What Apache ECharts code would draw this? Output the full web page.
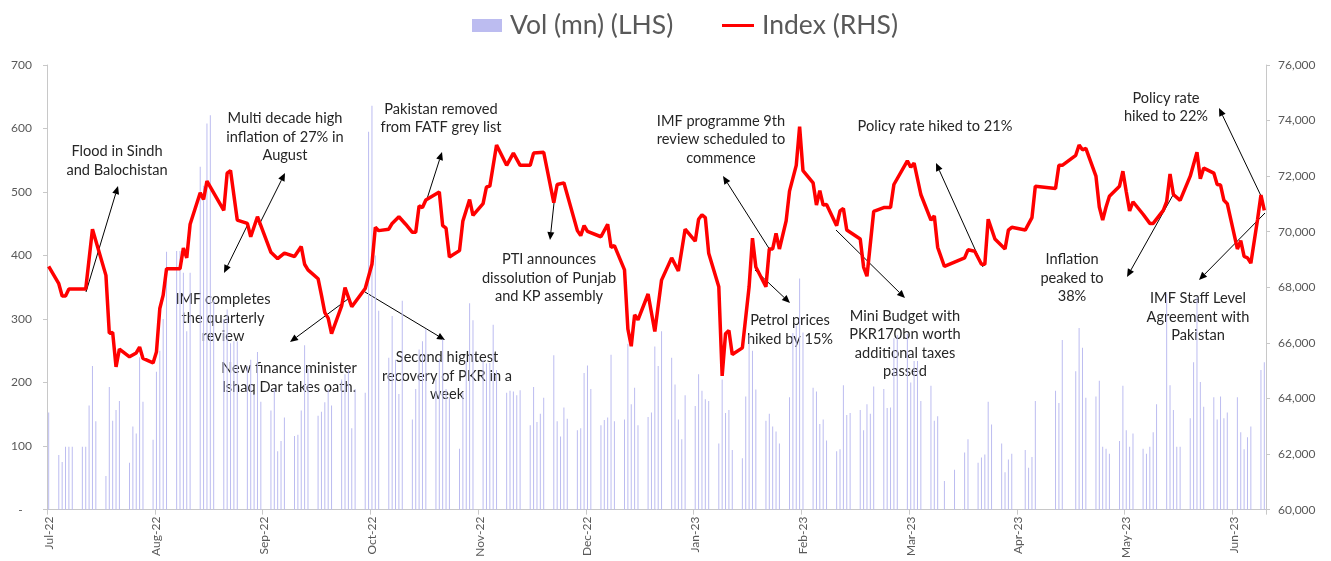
<!DOCTYPE html>
<html>
<head>
<meta charset="utf-8">
<title>Index vs volume</title>
<script src="https://cdn.jsdelivr.net/npm/echarts/dist/echarts.min.js"></script>
<style>
html, body { margin: 0; padding: 0; background: #fff; }
#main { width: 1331px; height: 561px; }
</style>
</head>
<body>
<div id="main"></div>
<script>
// calendar days from 1 Jul 2022, one category per day
var startDay = Date.UTC(2022, 6, 1);
var dayCount = 362;
var monthNames = ['Jan', 'Feb', 'Mar', 'Apr', 'May', 'Jun', 'Jul', 'Aug', 'Sep', 'Oct', 'Nov', 'Dec'];
var dates = [];
for (var i = 0; i < dayCount; i++) {
    dates.push(new Date(startDay + i * 86400000).toISOString().slice(0, 10));
}

// [day since 1 Jul 2022, volume in mn]
var volume = [
    [0,153],[3,86],[4,75],[5,99],[6,99],[7,99],[10,99],[11,99],[12,164],[13,226],[14,139],
    [17,53],[18,193],[19,140],[20,157],[21,171],[24,74],[25,131],[26,120],[27,240],[28,170],
    [31,110],[32,217],[33,250],[34,300],[35,406],[38,407],[39,407],[40,373],[41,281],[42,373],
    [45,540],[46,510],[47,608],[48,621],[49,330],[52,300],[53,315],[54,262],[55,265],[56,265],
    [59,226],[60,236],[61,182],[62,248],[63,170],[66,156],[67,190],[68,92],[69,108],[70,145],
    [73,116],[74,118],[75,156],[76,259],[77,222],[80,148],[81,154],[82,169],[83,190],[84,164],
    [87,205],[88,213],[89,222],[90,128],[91,190],[94,184],[95,595],[96,636],[97,400],[98,313],
    [101,239],[102,305],[103,236],[104,182],[105,329],[108,142],[109,190],[110,252],[111,265],[112,284],
    [115,205],[116,237],[117,268],[118,190],[119,177],[122,96],[123,185],[124,234],[125,325],[126,298],
    [129,236],[130,230],[131,231],[132,291],[133,220],[136,184],[137,187],[138,186],[139,180],[140,188],
    [143,133],[144,193],[145,138],[146,151],[147,176],[150,243],[151,139],[152,115],[153,161],[154,143],
    [157,125],[158,128],[159,215],[160,227],[161,190],[164,133],[165,141],[166,145],[167,244],[168,139],
    [171,142],[172,261],[173,166],[174,192],[175,133],[178,146],[179,153],[180,257],[181,226],[182,281],
    [185,239],[186,197],[187,142],[188,111],[189,180],[192,163],[193,213],[194,187],[195,174],[196,171],
    [199,104],[200,205],[201,152],[202,157],[203,94],[206,81],[207,178],[208,275],[209,250],[210,189],
    [213,140],[214,151],[215,131],[216,123],[217,104],[220,177],[221,278],[222,290],[223,364],[224,279],
    [227,192],[228,186],[229,135],[230,142],[231,109],[234,92],[235,95],[236,196],[237,149],[238,152],
    [241,157],[242,125],[243,166],[244,151],[245,194],[248,190],[249,160],[250,161],[251,270],[252,275],
    [255,277],[256,200],[257,234],[258,234],[259,171],[262,195],[263,140],[264,147],[266,45],
    [269,63],[272,90],[273,111],[276,74],[277,82],[278,87],[279,170],[280,134],
    [283,104],[284,59],[285,79],[286,88],[290,94],[291,66],[292,83],[293,171],[299,187],[300,168],[301,267],
    [305,218],[306,286],[307,255],[308,176],[311,178],[312,203],[313,99],[314,96],[315,88],
    [318,108],[319,195],[320,125],[321,99],[322,120],[325,96],[326,88],[327,99],[328,122],[329,166],
    [332,340],[333,196],[334,157],[335,99],[336,99],[339,144],[340,232],[341,335],[342,201],[343,162],
    [346,177],[347,142],[348,178],[349,144],[350,153],[353,177],[354,122],[355,95],[356,114],[357,131],
    [360,220],[361,232]
];

// [day since 1 Jul 2022, index level]
var index = [
    [0,68750],[3,68130],[4,67690],[5,67690],[6,67940],[7,67940],[10,67940],[11,67940],[13,70090],
    [17,68430],[18,66350],[19,66380],[20,65140],[21,65780],[24,65500],[26,65640],[27,65850],[28,65440],
    [31,65280],[32,65670],[33,67240],[34,67720],[35,68670],[39,68670],[40,69410],[41,69060],[42,70270],
    [45,71400],[46,71160],[47,71820],[52,70770],[53,72110],[54,72200],[56,70420],[59,70300],[60,69820],
    [62,70540],[66,69260],[68,69030],[70,69230],[73,69110],[75,69470],[76,68830],[77,68630],[80,68310],
    [81,67720],[82,67090],[83,66890],[84,66330],[87,67330],[88,67990],[90,67300],[94,67960],[96,68830],
    [97,70160],[98,70040],[101,70090],[102,70300],[104,70540],[106,70270],[108,69980],[109,69980],
    [110,70930],[111,70870],[112,71140],[116,71430],[117,70220],[118,70130],[119,69090],[122,69320],
    [123,70390],[125,71160],[126,70590],[129,71010],[130,71610],[131,71640],[133,73120],[136,72390],
    [138,72830],[140,72390],[143,72390],[144,72830],[147,72860],[150,71050],[151,71700],[153,71760],
    [157,70040],[158,69860],[159,70220],[160,70010],[164,69820],[166,70270],[167,69440],[168,69500],
    [171,68630],[172,66500],[173,65880],[174,67010],[175,66830],[178,67760],[180,66410],[182,68260],
    [185,69060],[187,68590],[189,70090],[192,69660],[193,70450],[194,70610],[195,70510],[196,69230],
    [199,68020],[200,64810],[201,66330],[202,66450],[203,65580],[206,65820],[208,68020],[209,69770],
    [210,68730],[213,68020],[214,69380],[215,69380],[216,69940],[217,69380],[219,70390],[220,71460],
    [222,72390],[223,73780],[224,72200],[227,71760],[228,70960],[229,71480],[230,70960],[231,70980],
    [234,70220],[235,70750],[236,70840],[237,70060],[241,69740],[242,68730],[243,68400],[245,70730],
    [248,70870],[250,70870],[251,71700],[255,72550],[256,72320],[257,72470],[259,71340],[262,70420],
    [263,70570],[264,69440],[266,68750],[272,69060],[273,69350],[275,69300],[277,68830],[278,68830],
    [279,70450],[281,69740],[284,69380],[285,70060],[286,70160],[290,70060],[292,70510],[293,71640],
    [299,71560],[300,72390],[301,72390],[305,72750],[306,73120],[307,72950],[308,73000],[311,72000],
    [312,70890],[313,70420],[314,70890],[315,71280],[318,71640],[319,72180],[320,71440],[321,70750],
    [322,71080],[325,70630],[327,70300],[328,70300],[331,70770],[332,71080],[333,72080],[334,71340],
    [336,71130],[339,72000],[341,72860],[342,71910],[343,72290],[346,72110],[347,71700],[348,71680],
    [349,71130],[350,71010],[353,69380],[354,69680],[355,69110],[356,69060],[357,68870],[359,70450],
    [360,71320],[361,70770]
];

// annotation text, block centre and arrows [from x, from y, tip x, tip y]
var notes = [
    { text: 'Flood in Sindh\nand Balochistan', at: [117, 161], arrows: [[86, 292, 118, 186]] },
    { text: 'Multi decade high\ninflation of 27% in\nAugust', at: [285, 137], arrows: [[259, 225, 285, 173]] },
    { text: 'IMF completes\nthe quarterly\nreview', at: [223, 318], arrows: [[248, 224, 224, 273]] },
    { text: 'New finance minister\nIshaq Dar takes oath.', at: [289, 378], arrows: [[348, 299, 290, 342]] },
    { text: 'Second hightest\nrecovery of PKR in a\nweek', at: [447, 376], arrows: [[365, 292, 445, 340]] },
    { text: 'Pakistan removed\nfrom FATF grey list', at: [441, 118.5], arrows: [[426, 202, 442, 152]] },
    { text: 'PTI announces\ndissolution of Punjab\nand KP assembly', at: [549, 278], arrows: [[554, 203, 550, 240]] },
    { text: 'IMF programme 9th\nreview scheduled to\ncommence', at: [721, 139.5], arrows: [[770, 250, 723, 176]] },
    { text: 'Petrol prices\nhiked by 15%', at: [790, 330], arrows: [[755, 270, 790, 303]] },
    { text: 'Mini Budget with\nPKR170bn worth\nadditional taxes\npassed', at: [905, 344], arrows: [[836, 230, 905, 298]] },
    { text: 'Policy rate hiked to 21%', at: [935, 126], arrows: [[983, 267, 936, 163]] },
    { text: 'Inflation\npeaked to\n38%', at: [1072, 278], arrows: [[1173, 195, 1127, 277]] },
    { text: 'Policy rate\nhiked to 22%', at: [1166, 107.5], arrows: [[1262, 198, 1219, 108]] },
    { text: 'IMF Staff Level\nAgreement with\nPakistan', at: [1198, 317], arrows: [[1265, 213, 1199, 280]] }
];

function arrowParts(a) {
    var x1 = a[0], y1 = a[1], x2 = a[2], y2 = a[3];
    var dx = x2 - x1, dy = y2 - y1, len = Math.sqrt(dx * dx + dy * dy);
    var ux = dx / len, uy = dy / len, hl = 8, hw = 3.5;
    var bx = x2 - ux * hl, by = y2 - uy * hl;
    return [
        { type: 'line', shape: { x1: x1, y1: y1, x2: bx, y2: by }, style: { stroke: '#000', lineWidth: 1 } },
        { type: 'polygon', shape: { points: [[x2, y2], [bx - uy * hw, by + ux * hw], [bx + uy * hw, by - ux * hw]] }, style: { fill: '#000' } }
    ];
}

var graphics = [];
notes.forEach(function (n) {
    graphics.push({
        type: 'text',
        style: {
            text: n.text, x: n.at[0], y: n.at[1],
            align: 'center', verticalAlign: 'middle',
            fontFamily: 'Lato', fontSize: 14.6, lineHeight: 18.5, fill: '#262626'
        }
    });
    n.arrows.forEach(function (a) { graphics = graphics.concat(arrowParts(a)); });
});

function monthLabel(v) {
    var p = v.split('-');
    return monthNames[parseInt(p[1], 10) - 1] + '-' + p[0].slice(2);
}

var dom = document.getElementById('main');
var myChart = echarts.init(dom);
var option = {
    animation: false,
    textStyle: { fontFamily: 'Lato' },
    legend: [
        {
            data: [{ name: 'Vol (mn) (LHS)', icon: 'rect' }],
            left: 467, top: 7, padding: 5,
            itemWidth: 30, itemHeight: 13,
            textStyle: { fontSize: 26.5, color: '#595959', fontFamily: 'Lato', padding: [0, 0, 0, 3] }
        },
        {
            data: [{ name: 'Index (RHS)', icon: 'rect' }],
            left: 717, top: 7, padding: 5,
            itemWidth: 32, itemHeight: 3,
            textStyle: { fontSize: 26.5, color: '#595959', fontFamily: 'Lato', padding: [0, 0, 0, 3] }
        }
    ],
    grid: { left: 47, right: 65, top: 65, bottom: 46, containLabel: false },
    xAxis: {
        type: 'category',
        data: dates,
        boundaryGap: true,
        axisLine: { show: true, lineStyle: { color: '#c8c8c8', width: 1 } },
        axisTick: { show: true, interval: 31, length: 5, lineStyle: { color: '#c8c8c8' } },
        axisLabel: {
            interval: 31, rotate: 90, margin: 7,
            color: '#595959', fontFamily: 'Lato', fontSize: 12,
            formatter: monthLabel
        },
        splitLine: { show: false }
    },
    yAxis: [
        {
            type: 'value',
            position: 'left',
            min: 0, max: 700, interval: 100,
            axisLine: { show: true, lineStyle: { color: '#c8c8c8' } },
            axisTick: { show: true, length: 4, lineStyle: { color: '#c8c8c8' } },
            splitLine: { show: false },
            axisLabel: {
                margin: 15, color: '#595959', fontFamily: 'Lato', fontSize: 12,
                showMinLabel: true, showMaxLabel: true,
                formatter: function (v) { return v === 0 ? '-   ' : String(v); }
            }
        },
        {
            type: 'value',
            position: 'right',
            min: 60000, max: 76000, interval: 2000,
            axisLine: { show: true, lineStyle: { color: '#c8c8c8' } },
            axisTick: { show: true, length: 4, lineStyle: { color: '#c8c8c8' } },
            splitLine: { show: false },
            axisLabel: {
                margin: 12, color: '#595959', fontFamily: 'Lato', fontSize: 12,
                showMinLabel: true, showMaxLabel: true,
                formatter: function (v) { return v.toLocaleString('en-US'); }
            }
        }
    ],
    series: [
        {
            name: 'Vol (mn) (LHS)',
            type: 'bar',
            yAxisIndex: 0,
            barWidth: 1,
            itemStyle: { color: '#bcbcf0' },
            data: volume
        },
        {
            name: 'Index (RHS)',
            type: 'line',
            yAxisIndex: 1,
            symbol: 'none',
            lineStyle: { color: '#ff0000', width: 3.5 },
            itemStyle: { color: '#ff0000' },
            z: 3,
            data: index
        }
    ],
    graphic: graphics
};
myChart.setOption(option, true);
window.onresize = myChart.resize;
</script>
</body>
</html>
